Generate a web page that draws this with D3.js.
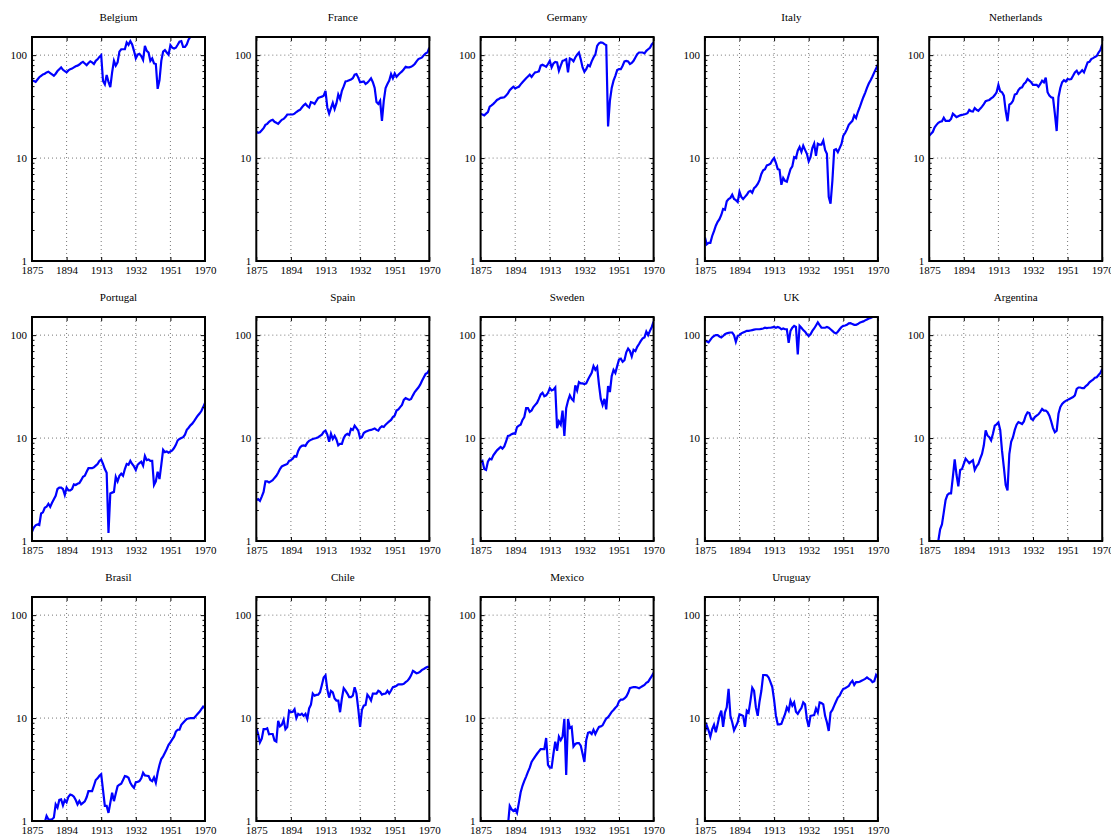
<!DOCTYPE html>
<html lang="en">
<head>
  <meta charset="UTF-8">
  <title>GDP per capita relative index, 1875-1970</title>
  <script src="https://d3js.org/d3.v7.min.js"></script>
  <style>
    body { margin: 0; background: #fff; }
    svg { font-family: "Liberation Serif", "DejaVu Serif", serif; }
    .grid line { stroke: #777; stroke-width: 1; stroke-dasharray: 1,3; }
    .axis text { font-family: "Liberation Serif", serif; font-size: 11px; fill: #000; }
    .axis line { stroke: #000; stroke-width: 1; }
    .title { font-family: "Liberation Serif", serif; font-size: 11px; text-anchor: middle; }
  </style>
</head>
<body>
<svg id="chart"></svg>
<script>
// x categories and tick labels
const years = d3.range(1875, 1971);
const xTicks = [1875, 1894, 1913, 1932, 1951, 1970];
const yTicks = [1, 10, 100];
const yMinor = [2, 3, 4, 5, 6, 7, 8, 9, 20, 30, 40, 50, 60, 70, 80, 90];

// one value per year, 1875..1970 (null = no data)
const belgium = [
  57, 56, 55, 58, 61, 63, 65, 66, 68, 69,
  67, 65, 63, 66, 70, 73, 76, 72, 70, 68,
  71, 73, 74, 76, 78, 79, 81, 84, 86, 83,
  80, 84, 87, 85, 82, 88, 91, 96, 100, 56,
  52, 64, 55, 49, 68, 88, 79, 85, 108, 114,
  114, 114, 133, 126, 137, 127, 110, 93, 101, 103,
  98, 90, 123, 110, 106, 88, 93, 83, 82, 47,
  57, 88, 108, 112, 106, 101, 125, 118, 116, 118,
  126, 135, 137, 120, 120, 127, 142, 150, 160, 168,
  176, 184, 192, 200, 210, 220];
const france = [
  18.1, 17.6, 17.8, 18.6, 19.5, 21, 21.5, 22.5, 23.2, 23.5,
  22.5, 22, 21.5, 22.5, 23.5, 24, 25, 26.5, 26.5, 26.5,
  26.5, 27, 28, 28.8, 29.4, 31, 32.5, 33.6, 32, 31,
  35, 34.5, 33.6, 36, 38.4, 39, 39.5, 40.4, 45, 31,
  27, 30.6, 34.4, 30, 34, 41.5, 37.5, 45, 49.6, 55.5,
  56, 57, 58, 59.6, 64.5, 65.5, 60.5, 54.5, 55, 55.5,
  52.5, 54, 56.5, 59.6, 54.5, 48, 35, 33.6, 36, 23,
  36, 48, 52.5, 56.5, 65.5, 59.6, 66.5, 61.5, 64.5, 67,
  69.5, 73, 77, 76, 76, 77, 79, 82, 87, 91.5,
  93, 95, 100, 104, 106, 118];
const germany = [
  26.9, 26.5, 26, 27, 28, 31.6, 32.5, 33.6, 35, 36.7,
  37.5, 38.4, 38.7, 39, 40.5, 42.5, 45.7, 47.5, 49.3, 47.5,
  48.5, 49.3, 52, 54.5, 57, 59.6, 62, 64.5, 61.5, 65,
  68, 68.5, 69.5, 79, 80.5, 79, 77, 82, 88, 76,
  83, 86, 85, 70.5, 79, 88, 89, 91, 68, 93,
  91, 87, 95, 101, 106, 91, 76, 69, 73, 80,
  78, 87, 95, 101, 123, 130, 133, 132, 128, 125,
  20.3, 36, 48, 56.5, 63, 71.5, 73, 73, 79, 87,
  88, 87, 82, 84, 88, 95, 102, 106, 106, 106,
  104, 110, 114, 118, 127, 133];
const italy = [
  1.7, 1.45, 1.5, 1.5, 1.75, 1.95, 2.2, 2.4, 2.55, 2.8,
  3.2, 3.15, 3.8, 4.0, 4.1, 4.4, 4.0, 3.9, 3.75, 4.7,
  4.2, 4.0, 4.2, 4.4, 4.7, 4.8, 4.6, 5.1, 5.3, 5.6,
  6.1, 7.0, 7.6, 7.8, 8.5, 8.6, 8.8, 9.5, 10.0, 9.0,
  7.8, 7.7, 5.5, 6.4, 6.0, 5.9, 6.8, 7.8, 8.3, 10.2,
  10.0, 11.8, 12.8, 11.5, 13.2, 12.0, 11.0, 9.3, 10.2, 12.5,
  13.8, 10.5, 13.8, 13.5, 13.5, 14.8, 12.0, 11.0, 4.2, 3.6,
  6.0, 12.0, 12.2, 11.4, 12.5, 13.7, 16.5, 17.5, 19, 21,
  22, 23, 26, 24.5, 28, 31, 35, 39, 43, 48,
  53, 57, 62, 68, 74, 81];
const netherlands = [
  16.5, 17.2, 18, 19.9, 21, 22, 22.5, 22.8, 24.6, 23,
  23, 23, 24, 27, 26, 25, 25.5, 26, 26.3, 26.5,
  26.8, 27.3, 29.4, 28.5, 28.3, 30.6, 29.4, 28.8, 30.2, 31.6,
  33.5, 35.7, 36.2, 36.7, 38, 39, 41, 43.6, 51.5, 44.6,
  43.6, 40.4, 28.8, 22.8, 33, 34, 36, 41.4, 42, 45.7,
  48, 48.7, 52.5, 54.5, 58.6, 56.5, 54.5, 51.5, 51.5, 51.5,
  49.3, 52.5, 56.5, 54.5, 60.5, 43.6, 40.4, 39, 38.4, 27,
  18.3, 39, 48, 54.5, 57, 55.5, 58.6, 58, 58.6, 63,
  68, 70.5, 65.5, 68, 71.5, 68, 76, 85, 86, 91.5,
  93.5, 96, 98, 106, 112, 127];
const portugal = [
  1.23, 1.35, 1.42, 1.45, 1.43, 1.85, 1.9, 2.1, 2.15, 2.3,
  2.15, 2.35, 2.55, 2.75, 3.2, 3.3, 3.3, 3.2, 2.8, 3.3,
  3.1, 3.1, 3.2, 3.55, 3.5, 3.6, 3.65, 3.9, 4.2, 4.3,
  4.7, 5.1, 5.1, 5.1, 5.2, 5.4, 5.6, 6.0, 6.2, 5.6,
  5.0, 4.6, 1.2, 2.9, 2.95, 3.0, 4.2, 3.8, 4.3, 4.5,
  4.3, 5.0, 5.6, 5.5, 6.0, 5.6, 5.3, 4.9, 5.5, 5.7,
  5.9, 5.4, 6.7, 6.1, 6.2, 6.0, 6.0, 3.5, 3.8, 4.7,
  4.0, 5.5, 7.7, 7.3, 7.4, 7.2, 7.4, 7.6, 8.0, 8.6,
  9.5, 9.8, 10.0, 10.2, 10.8, 12.0, 12.6, 13.3, 13.8, 14.6,
  15.5, 16.5, 17.3, 18.3, 20, 22];
const spain = [
  2.5, 2.55, 2.45, 2.7, 3.0, 3.8, 3.8, 3.7, 3.8, 3.9,
  4.1, 4.3, 4.6, 5.0, 5.3, 5.4, 5.5, 5.6, 6.0, 6.1,
  6.3, 6.7, 6.6, 7.5, 8.1, 8.4, 8.5, 8.4, 9.0, 9.4,
  9.6, 9.8, 9.9, 10.0, 10.2, 10.5, 10.8, 11.5, 11.8, 10.8,
  9.2, 11.0, 9.8, 10.5, 9.7, 8.5, 8.8, 8.8, 10.0, 10.7,
  11.0, 10.7, 12.3, 12.0, 13.2, 12.5, 11.8, 10.0, 10.2, 11.2,
  11.5, 11.7, 11.9, 12.0, 12.2, 12.4, 12.0, 11.8, 12.6, 13.0,
  12.8, 13.5, 14.0, 14.5, 15.0, 16.0, 16.5, 18.5, 19.0, 20,
  21, 23.5, 24.5, 24, 23.5, 24, 26, 28, 29.5, 31,
  33, 36, 39, 42, 43, 46];
const sweden = [
  5.8, 6.0, 5.0, 4.9, 5.9, 6.3, 6.2, 6.8, 7.2, 7.6,
  7.9, 8.2, 7.9, 8.3, 9.3, 10.5, 10.6, 10.9, 11.1, 11.0,
  12.8, 13.2, 13.5, 15.0, 16.0, 19.5, 19.5, 18.0, 18.5, 20.0,
  21.0, 22.0, 24.0, 26.5, 27.5, 25.5, 26.0, 27.5, 30.5, 29.0,
  29.5, 31.0, 12.5, 14.5, 13.5, 18.5, 10.5, 19.5, 23.0, 26.0,
  24, 23, 32.5, 29, 35, 34, 34, 33.5, 34, 37,
  40, 43, 50, 46, 49, 33, 24, 21, 24, 19,
  32, 28, 40, 46, 43, 50, 58, 59, 55, 57,
  68, 74, 70, 62, 72, 70, 77, 82, 88, 93,
  95, 108, 100, 110, 120, 135];
const uk = [
  88, 87, 85, 90, 95, 98, 100, 100, 97, 95,
  98, 102, 104, 105, 106, 106, 100, 86, 98, 100,
  104, 106, 108, 110, 110, 111, 112, 113, 114, 114,
  114, 115, 116, 118, 117, 118, 118, 119, 120, 118,
  120, 118, 114, 116, 114, 114, 84, 110, 118, 123,
  120, 65, 123, 118, 112, 108, 102, 98, 102, 110,
  116, 124, 133, 125, 118, 118, 118, 120, 118, 114,
  110, 106, 104, 108, 114, 120, 123, 124, 126, 130,
  131, 128, 126, 126, 128, 132, 134, 136, 139, 142,
  145, 147, 150, 155, 160, 165];
const argentina = [
  null, null, null, null, 0.8, 1.0, 1.3, 1.45, 1.9, 2.5,
  2.8, 2.9, 2.9, 4.2, 6.2, 4.4, 3.4, 4.9, 5.0, 5.6,
  6.3, 6.0, 5.7, 5.9, 6.1, 4.9, 5.3, 5.6, 6.3, 7.0,
  8.5, 11.9, 10.6, 10.2, 9.5, 11.0, 13.2, 13.6, 14.2, 12.0,
  7.5, 5.2, 3.5, 3.1, 7.0, 9.2, 10.2, 12.0, 13.5, 14.3,
  14.0, 13.7, 14.5, 16.5, 17.8, 17.5, 15.4, 15.0, 16.0, 16.5,
  17.0, 18.0, 19.2, 18.5, 18.5, 17.8, 16.5, 14.5, 12.5, 11.4,
  11.8, 17.2, 20, 21.5, 22.3, 23, 23.5, 24, 24.5, 25,
  26, 30, 31, 31, 30.5, 30.6, 32, 33, 34.8, 36,
  37, 38.5, 39, 41, 43, 47];
const brasil = [
  null, null, null, null, null, null, 0.9, 0.97, 1.12, 1.04,
  1.03, 1.04, 1.08, 1.45, 1.35, 1.6, 1.62, 1.42, 1.6, 1.52,
  1.72, 1.81, 1.78, 1.72, 1.6, 1.45, 1.56, 1.45, 1.5, 1.55,
  1.7, 1.95, 1.95, 1.95, 2.2, 2.5, 2.6, 2.75, 2.85, 2.0,
  1.4, 1.4, 1.2, 1.5, 1.88, 1.56, 1.85, 2.18, 2.25, 2.3,
  2.5, 2.73, 2.7, 2.63, 2.35, 2.2, 2.1, 2.38, 2.4, 2.44,
  2.6, 2.94, 2.77, 2.75, 2.73, 2.5, 2.44, 2.65, 2.35, 2.94,
  3.5, 4.0, 4.25, 4.6, 5.0, 5.5, 5.8, 6.2, 6.6, 7.4,
  7.7, 7.7, 8.6, 9.0, 9.4, 9.8, 9.9, 10.0, 10.0, 10.0,
  10.5, 11.0, 11.5, 12.2, 12.9, 12.5];
const chile = [
  8.0, 7.0, 5.8, 6.3, 7.8, 7.8, 7.95, 6.95, 7.0, 7.0,
  6.05, 5.9, 9.4, 8.3, 8.6, 9.6, 7.8, 8.2, 11.8, 11.5,
  11.5, 12.2, 10.0, 11.0, 10.7, 11.0, 10.5, 11.0, 9.8, 12.4,
  13.5, 17.3, 16.5, 16.8, 16.9, 17.8, 21, 24.8, 26, 19,
  15.8, 18.4, 17.8, 15.5, 14.8, 14.8, 11.4, 15.5, 19.5, 18.5,
  17.3, 16.0, 16.0, 16.5, 19.9, 17.3, 12.2, 8.2, 12.0, 13.2,
  13.4, 16.9, 16.0, 14.8, 17.3, 17.3, 17.3, 18.4, 18.0, 16.9,
  17.2, 17.3, 18.4, 17.3, 18.5, 20, 20.2, 20.6, 21.2, 21.2,
  21.2, 21.5, 22.3, 23, 24.2, 26, 28.7, 28, 27.2, 27.5,
  28.3, 29.4, 30, 30.8, 31.4, 31.4];
const mexico = [
  null, null, null, null, null, null, null, null, null, null,
  null, null, null, null, null, 0.9, 1.4, 1.3, 1.25, 1.3,
  1.2, 1.5, 1.9, 2.2, 2.45, 2.7, 3.0, 3.3, 3.75, 4.0,
  4.25, 4.5, 4.75, 5.0, 5.0, 5.0, 6.4, 3.5, 3.3, 3.3,
  4.5, 5.9, 4.8, 6.6, 6.1, 6.6, 9.8, 2.8, 9.8, 8.0,
  8.2, 5.3, 5.6, 5.7, 5.7, 5.4, 4.5, 3.75, 6.1, 7.2,
  7.3, 7.0, 7.7, 7.0, 7.6, 8.2, 8.3, 8.5, 9.2, 9.9,
  10.2, 10.8, 11.5, 12.0, 12.6, 13.1, 14.5, 15.1, 15.1, 15.5,
  16.2, 17.5, 19.5, 19.8, 20, 20, 19.8, 19.5, 20, 20.5,
  21, 22, 22.5, 24, 25.5, 27.5];
const uruguay = [
  7.3, 8.5, 7.6, 6.6, 7.8, 8.6, 7.3, 8.7, 10.5, 11.8,
  8.2, 11.3, 12.7, 19.2, 10.5, 9.1, 7.6, 8.3, 9.1, 10.9,
  10.7, 10.5, 8.2, 11.8, 11.3, 14.7, 19.7, 18.4, 12.7, 10.5,
  14.5, 18.4, 26.2, 26.2, 26.0, 24.8, 22.3, 20, 15, 10.5,
  8.7, 8.7, 8.8, 9.8, 10.9, 12.7, 11.8, 14.7, 13.2, 14.2,
  11.5, 11.0, 11.8, 12.5, 14.2, 13.6, 9.8, 8.2, 10.5, 10.6,
  10.7, 12.4, 11.3, 14.2, 14.0, 13.6, 10.5, 9.1, 7.5, 11.3,
  12.0, 13.2, 14.5, 15.8, 16.5, 18.0, 19.2, 19.5, 20, 20.5,
  22, 23, 21, 22.3, 22.3, 22.5, 23, 23.5, 24, 24.8,
  24, 23.5, 22.3, 22.8, 26.2, 24.8];

const countries = ["Belgium", "France", "Germany", "Italy", "Netherlands",
  "Portugal", "Spain", "Sweden", "UK", "Argentina",
  "Brasil", "Chile", "Mexico", "Uruguay"];
const series = [belgium, france, germany, italy, netherlands,
  portugal, spain, sweden, uk, argentina,
  brasil, chile, mexico, uruguay];

const width = 1111, height = 838;
const plotW = 173, plotH = 224;
const left0 = 32, colStep = 224.3;
const top0 = 37, rowStep = 280;

const svg = d3.select("#chart")
  .attr("width", width)
  .attr("height", height);

const x = d3.scaleLinear().domain([1875, 1970]).range([0, plotW]);
const y = d3.scaleLog().domain([1, 150]).range([plotH, 0]);

const line = d3.line()
  .defined(d => d[1] != null)
  .x(d => x(d[0]))
  .y(d => y(Math.max(d[1], 0.5)));

countries.forEach((name, i) => {
  const col = i % 5, row = Math.floor(i / 5);
  const g = svg.append("g")
    .attr("transform", "translate(" + (left0 + col * colStep) + "," + (top0 + row * rowStep) + ")");

  // dotted grid
  const grid = g.append("g").attr("class", "grid");
  grid.selectAll(".gx")
    .data(xTicks.slice(1, -1))
    .enter().append("line")
    .attr("x1", d => x(d)).attr("x2", d => x(d))
    .attr("y1", 0).attr("y2", plotH);
  grid.selectAll(".gy")
    .data(yTicks.slice(1))
    .enter().append("line")
    .attr("x1", 0).attr("x2", plotW)
    .attr("y1", d => y(d)).attr("y2", d => y(d));

  // clipped data line
  g.append("clipPath").attr("id", "clip" + i)
    .append("rect").attr("width", plotW).attr("height", plotH);
  g.append("path")
    .datum(years.map((yr, k) => [yr, series[i][k]]))
    .attr("clip-path", "url(#clip" + i + ")")
    .attr("fill", "none")
    .attr("stroke", "#0000ff")
    .attr("stroke-width", 2.2)
    .attr("d", line);

  // axes with inward ticks
  g.append("g").attr("class", "axis")
    .attr("transform", "translate(0," + plotH + ")")
    .call(d3.axisBottom(x).tickValues(xTicks).tickFormat(d3.format("d")).tickSize(-4).tickPadding(5));
  g.append("g").attr("class", "axis")
    .call(d3.axisTop(x).tickValues(xTicks).tickFormat("").tickSize(-4));
  g.append("g").attr("class", "axis")
    .call(d3.axisLeft(y).tickValues(yTicks).tickFormat(d3.format("d")).tickSize(-4).tickPadding(5));
  g.append("g").attr("class", "axis")
    .call(d3.axisLeft(y).tickValues(yMinor).tickFormat("").tickSize(-2.5));
  g.append("g").attr("class", "axis")
    .attr("transform", "translate(" + plotW + ",0)")
    .call(d3.axisRight(y).tickValues(yTicks).tickFormat("").tickSize(-4));
  g.append("g").attr("class", "axis")
    .attr("transform", "translate(" + plotW + ",0)")
    .call(d3.axisRight(y).tickValues(yMinor).tickFormat("").tickSize(-2.5));
  g.selectAll(".axis .domain").remove();
  g.selectAll(".axis").attr("font-family", null).attr("font-size", null);

  // frame
  g.append("rect")
    .attr("width", plotW).attr("height", plotH)
    .attr("fill", "none").attr("stroke", "#000").attr("stroke-width", 2);

  g.append("text")
    .attr("class", "title")
    .attr("x", plotW / 2)
    .attr("y", -16)
    .text(name);
});
</script>
</body>
</html>
